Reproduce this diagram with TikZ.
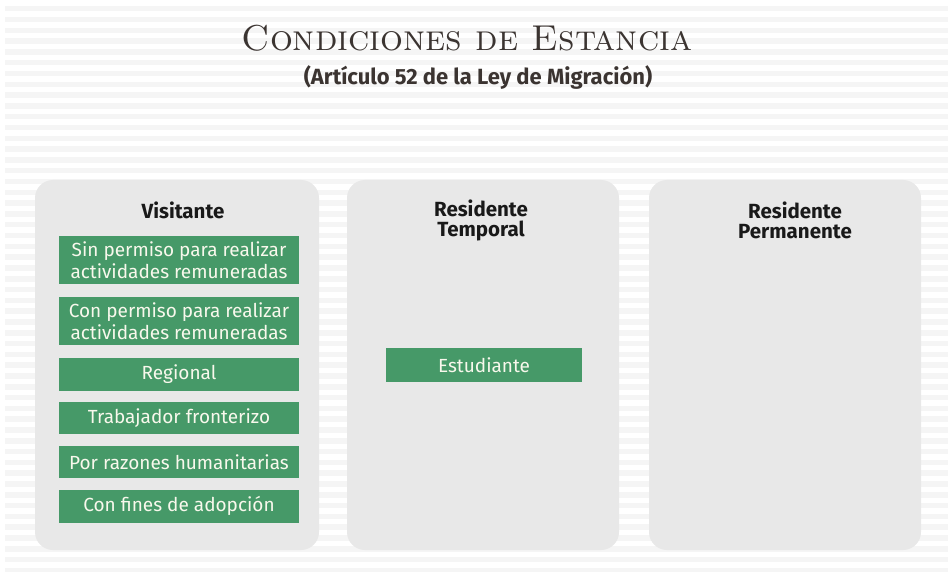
\documentclass[tikz,border=0pt]{standalone}
\usepackage{fontspec}
\setsansfont{Fira Sans}
\definecolor{verde}{RGB}{70,153,104}
\definecolor{panelgris}{RGB}{232,232,232}
\definecolor{raya}{RGB}{245,245,245}
\definecolor{titulo}{RGB}{59,52,49}
\definecolor{crema}{RGB}{248,248,236}

\begin{document}
\begin{tikzpicture}[x=1pt,y=-1pt,
    panel/.style={fill=panelgris,rounded corners=18pt,inner sep=0pt},
    encabezado/.style={font=\sffamily\bfseries\fontsize{20.5}{20}\selectfont,
      text=black!90,align=center},
    opcion/.style={fill=verde,text=crema,inner sep=0pt,align=center,
      font=\sffamily\fontsize{19}{22}\selectfont}]
      \useasboundingbox (0,0) rectangle (948,572) ;
      % fondo rayado
      \foreach \i in {0,...,52}
        \fill[raya] (5,6+10.8*\i) rectangle (948,11.5+10.8*\i) ;
      % titulo
      \node[text=titulo,font=\rmfamily\scshape\fontsize{36}{38}\selectfont] %
      (tit) at (467,38) {Condiciones de Estancia} ;
      \node[text=titulo,font=\sffamily\bfseries\fontsize{22}{24}\selectfont] %
      (sub) at (478,77) {(Artículo 52 de la Ley de Migración)} ;
      % columnas
      \node[panel,minimum width=284pt,minimum height=370pt] (vis) at (177,365) {} ;
      \node[panel,minimum width=272pt,minimum height=370pt] (tem) at (483,365) {} ;
      \node[panel,minimum width=272pt,minimum height=370pt] (per) at (785,365) {} ;
      \node[encabezado] (hvis) at (183,210) {Visitante} ;
      \node[encabezado] (htem) at (481,220) {Residente\\Temporal} ;
      \node[encabezado] (hper) at (795,220) {Residente\\Permanente} ;
      % opciones
      \node[opcion,minimum width=240pt,minimum height=48pt] %
      (o1) at (179,260) {Sin permiso para realizar\\actividades remuneradas} ;
      \node[opcion,minimum width=240pt,minimum height=48pt] %
      (o2) at (179,321) {Con permiso para realizar\\actividades remuneradas} ;
      \node[opcion,minimum width=240pt,minimum height=33pt] (o3) at (179,374) {Regional} ;
      \node[opcion,minimum width=240pt,minimum height=32pt] (o4) at (179,418) {Trabajador fronterizo} ;
      \node[opcion,minimum width=240pt,minimum height=32pt] (o5) at (179,462) {Por razones humanitarias} ;
      \node[opcion,minimum width=240pt,minimum height=33pt] (o6) at (179,506) {Con fines de adopción} ;
      \node[opcion,minimum width=196pt,minimum height=34pt] (o7) at (484,365) {Estudiante} ;
    \end{tikzpicture}
\end{document}
